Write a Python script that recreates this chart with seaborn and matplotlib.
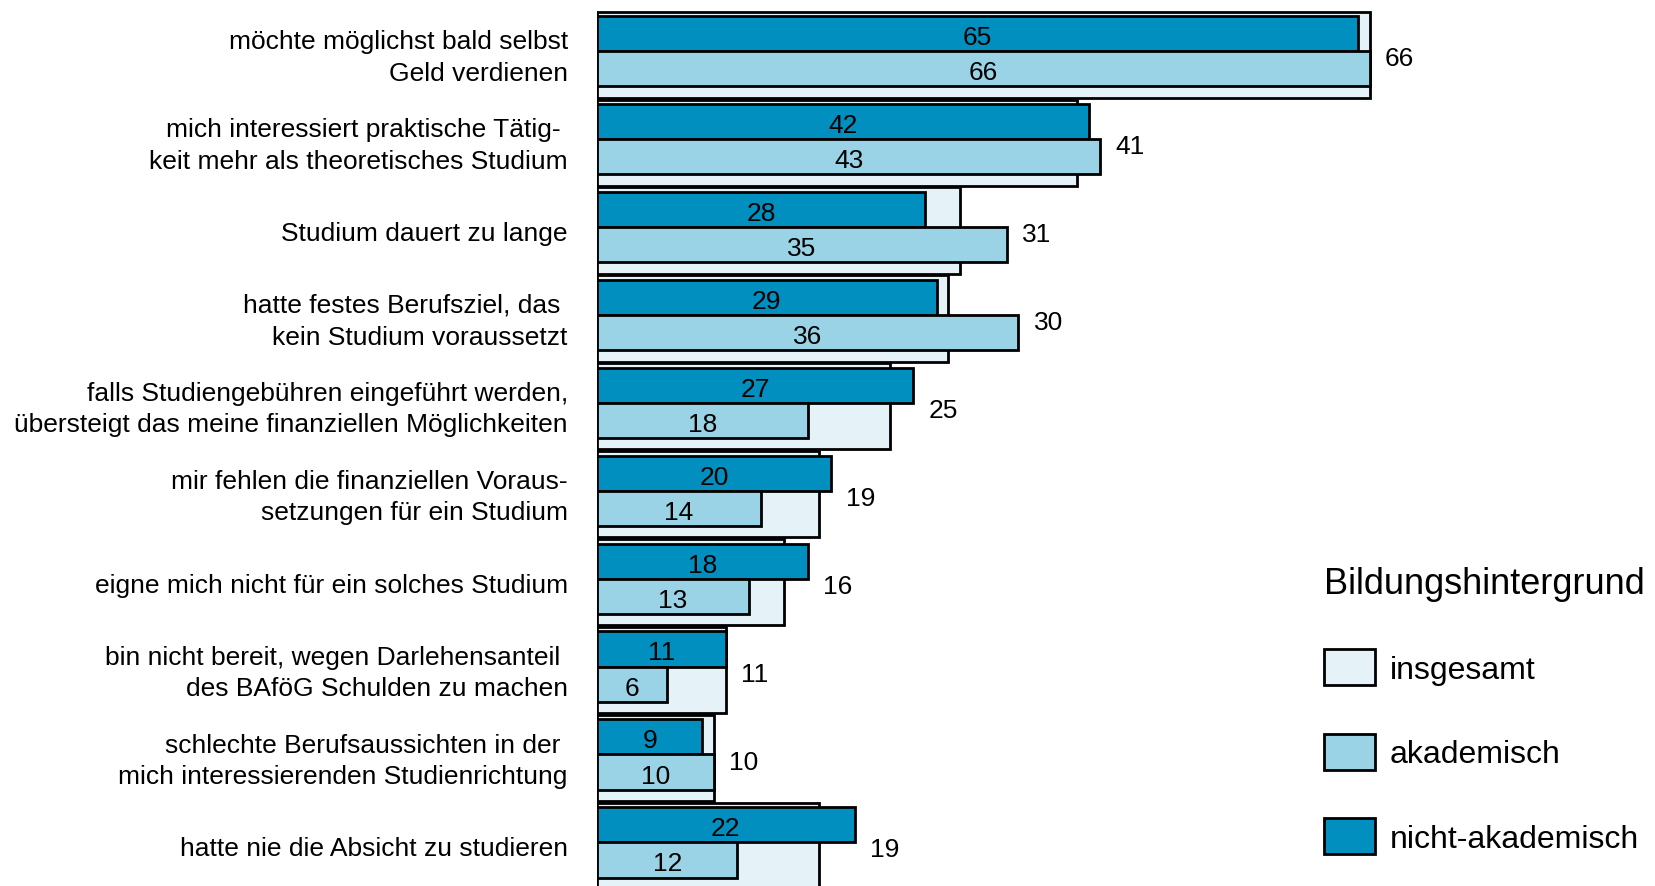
import pandas as pd
import matplotlib.pyplot as plt
import matplotlib.transforms as mtrans
import seaborn as sns
from matplotlib.patches import Patch

# Stil: weisser Hintergrund, Arial-aehnliche Schrift
sns.set_theme(style="white")
plt.rcParams['font.family'] = ['Liberation Sans', 'DejaVu Sans']
plt.rcParams['text.color'] = 'black'

# Gruende gegen ein Studium (Prozent)
gruende = [
    "möchte möglichst bald selbst\nGeld verdienen",
    "mich interessiert praktische Tätig- \nkeit mehr als theoretisches Studium",
    "Studium dauert zu lange",
    "hatte festes Berufsziel, das \nkein Studium voraussetzt",
    "falls Studiengebühren eingeführt werden,\nübersteigt das meine finanziellen Möglichkeiten",
    "mir fehlen die finanziellen Voraus-\nsetzungen für ein Studium",
    "eigne mich nicht für ein solches Studium",
    "bin nicht bereit, wegen Darlehensanteil \ndes BAföG Schulden zu machen",
    "schlechte Berufsaussichten in der \nmich interessierenden Studienrichtung",
    "hatte nie die Absicht zu studieren",
]
insgesamt = [66, 41, 31, 30, 25, 19, 16, 11, 10, 19]
akademisch = [66, 43, 35, 36, 18, 14, 13, 6, 10, 12]
nicht_akademisch = [65, 42, 28, 29, 27, 20, 18, 11, 9, 22]

gruppen = ["nicht-akademisch", "akademisch"]
farben = {"insgesamt": "#E5F2F8", "akademisch": "#9AD3E5", "nicht-akademisch": "#008FBF"}

df_ges = pd.DataFrame({"Grund": gruende, "Wert": insgesamt})
df_teil = pd.DataFrame({
    "Grund": gruende * 2,
    "Wert": nicht_akademisch + akademisch,
    "Gruppe": ["nicht-akademisch"] * len(gruende) + ["akademisch"] * len(gruende),
})

fig = plt.figure(figsize=(16.55, 8.87), dpi=100)
ax = fig.add_axes([597 / 1655, 0, 819.5 / 1655, 1])

# Hintergrundbalken "insgesamt"
sns.barplot(data=df_ges, x="Wert", y="Grund", orient="h", color=farben["insgesamt"],
            saturation=1, width=0.98, edgecolor="black", linewidth=2, ax=ax)
n_ges = len(ax.patches)

# Teilgruppen darueber
sns.barplot(data=df_teil, x="Wert", y="Grund", hue="Gruppe", hue_order=gruppen, orient="h",
            palette=farben, saturation=1, width=0.8, edgecolor="black", linewidth=2,
            legend=False, ax=ax)

# die beiden inneren Balken etwas nach oben schieben
for p in ax.patches[n_ges:]:
    p.set_y(p.get_y() - 0.04)

for cont in ax.containers[1:]:
    anns = ax.bar_label(cont, label_type="center", fontsize=19, color="black")
    for a in anns:
        a.xyann = (0, -2.5)

for i, v in enumerate(insgesamt):
    x = max(v, akademisch[i], nicht_akademisch[i]) + 1.3
    ax.text(x, i + 0.04, str(v), va="center", ha="left", fontsize=19, color="black")

ax.set_xlim(0, 70)
ax.set_ylim(9.456, -0.634)
ax.set_xlabel("")
ax.set_ylabel("")
ax.set_xticks([])
ax.tick_params(axis="y", length=0, pad=21, labelsize=19, labelcolor="black")
sns.despine(ax=ax, left=True, bottom=True)

# zweizeilige Beschriftungen etwas enger an die Mitte
for lbl in ax.get_yticklabels():
    lbl.set_linespacing(1.4)
    if "\n" in lbl.get_text():
        lbl.set_transform(lbl.get_transform() + mtrans.ScaledTranslation(0, 0.04, fig.dpi_scale_trans))

# Legende
handles = [Patch(facecolor=farben[k], edgecolor="black", linewidth=2)
           for k in ["insgesamt", "akademisch", "nicht-akademisch"]]
fig.legend(handles, ["insgesamt", "akademisch", "nicht-akademisch"], title="Bildungshintergrund",
           loc="upper left", bbox_to_anchor=(0.800, 0.361), frameon=False, fontsize=23,
           title_fontsize=26, handlelength=1.6, handleheight=1.35, labelspacing=1.52,
           handletextpad=0.45, alignment="left", borderpad=0, borderaxespad=0)

plt.savefig("out.png", dpi=100)
